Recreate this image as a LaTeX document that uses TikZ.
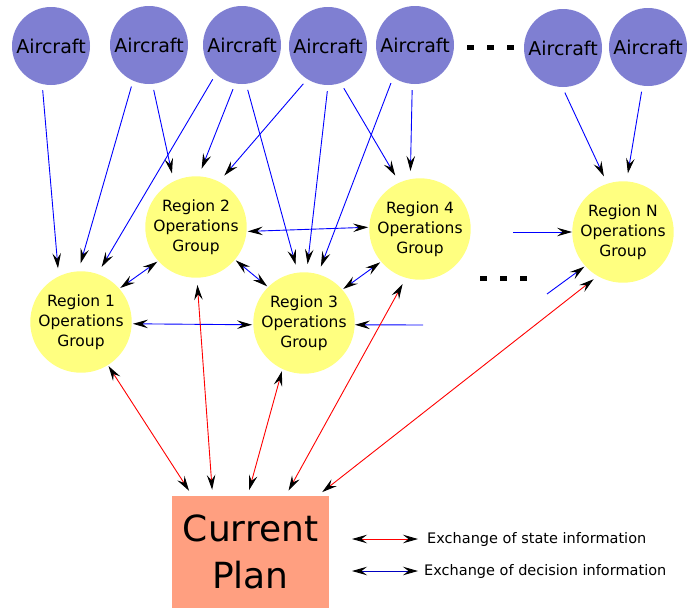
\documentclass[tikz,border=0pt]{standalone}
\usepackage{fontspec}
\setmainfont{DejaVu Sans}
\usetikzlibrary{arrows.meta}
\definecolor{craft}{HTML}{7F7FD2}
\definecolor{regfill}{HTML}{FFFF80}
\definecolor{planfill}{HTML}{FF9F80}
\definecolor{dec}{HTML}{0000FF}
\definecolor{decleg}{HTML}{0000C0}
\definecolor{stat}{HTML}{FF0000}
\tikzset{
  ac/.style={circle,fill=craft,minimum size=78pt,inner sep=0pt,text=black,
    font=\fontsize{19}{23}\selectfont},
  rog/.style={circle,fill=regfill,minimum size=96pt,inner sep=0pt,align=center,
    font=\fontsize{15.5}{20}\selectfont},
  planbox/.style={rectangle,fill=planfill,minimum width=157pt,minimum height=112pt,
    inner sep=0pt,align=center,font=\fontsize{36}{47}\selectfont},
  one/.style={-{Stealth[length=15pt,width=8.5pt,inset=5.5pt,black]}},
  both/.style={{Stealth[length=15pt,width=8.5pt,inset=5.5pt,black]}-{Stealth[length=15pt,width=8.5pt,inset=5.5pt,black]}},
  dflow/.style={one,draw=dec,line width=0.9pt,shorten <=6pt,shorten >=8pt},
  decx/.style={both,draw=dec,line width=0.9pt,shorten <=1pt,shorten >=1pt},
  statx/.style={both,draw=stat,line width=0.9pt},
  lbl/.style={anchor=west,inner sep=0pt,font=\fontsize{14.5}{17}\selectfont}
}
\begin{document}
\begin{tikzpicture}[x=1pt,y=-1pt]
  \useasboundingbox (0,0) rectangle (687,608);
  % aircraft
  \node[ac] (a1) at (51,46)  {Aircraft};
  \node[ac] (a2) at (149,45) {Aircraft};
  \node[ac] (a3) at (242,45) {Aircraft};
  \node[ac] (a4) at (328,46) {Aircraft};
  \node[ac] (a5) at (415,45) {Aircraft};
  \node[ac] (a6) at (563,48) {Aircraft};
  \node[ac] (a7) at (648,47) {Aircraft};
  \foreach \x in {467,487,507}{\fill (\x,45) rectangle ++(7,5);}
  % regional operations groups
  \node[rog] (r1) at (81,322)  {Region 1\\Operations\\Group};
  \node[rog] (r2) at (196,227) {Region 2\\Operations\\Group};
  \node[rog] (r3) at (304,323) {Region 3\\Operations\\Group};
  \node[rog] (r4) at (420,229) {Region 4\\Operations\\Group};
  \node[rog] (rn) at (623,232) {Region N\\Operations\\Group};
  \foreach \x in {480,500,520}{\fill (\x,276) rectangle ++(7,5);}
  \node[planbox] (cp) at (250.5,552) {Current\\Plan};
  % aircraft report to regions
  \foreach \a/\sa/\r/\er in {a1/257/r1/116,a2/246/r1/93,a2/275/r2/116,a3/228/r1/71,
    a3/260/r2/87,a3/276/r3/97,a4/238/r2/63,a4/270/r3/87,a4/289/r4/114,
    a5/236/r3/74,a5/266/r4/101,a6/269/rn/108,a7/262/rn/86}
    {\draw[dflow] (\a.\sa) -- (\r.\er);}
  % decision exchange between regions
  \draw[decx] (r1.41) -- (r2.222);
  \draw[decx] (r2.320) -- (r3.135);
  \draw[decx] (r1.358) -- (r3.182);
  \draw[decx] (r2.355) -- (r4.178);
  \draw[decx] (r3.41) -- (r4.220);
  \coordinate (in3) at (423,325);
  \coordinate (inn) at (513,232);
  \coordinate (innb) at (547,294);
  \draw[dflow,shorten <=0pt,shorten >=0pt] (in3) -- (r3.358);
  \draw[dflow,shorten <=0pt,shorten >=0pt] (inn) -- (rn.west);
  \draw[dflow,shorten <=0pt,shorten >=1pt] (innb) -- (rn.222);
  % state exchange with the current plan
  \foreach \r/\er/\g/\pa in {r1/302/1/136,r2/271/7/124,r3/245/2/93,r4/254/7/58,rn/240/5/40}
    {\draw[statx,shorten <=\g pt,shorten >=6pt] (\r.\er) -- (cp.\pa);}
  % legend
  \node[lbl] (lst) at (427,539) {Exchange of state information};
  \node[lbl] (ldt) at (424,571) {Exchange of decision information};
  \coordinate (lsa) at (352,539);
  \coordinate (lda) at (352,571);
  \draw[statx,shorten >=9pt] (lsa) -- (lst.west);
  \draw[both,draw=decleg,line width=0.9pt,shorten >=6pt] (lda) -- (ldt.west);
\end{tikzpicture}
\end{document}
